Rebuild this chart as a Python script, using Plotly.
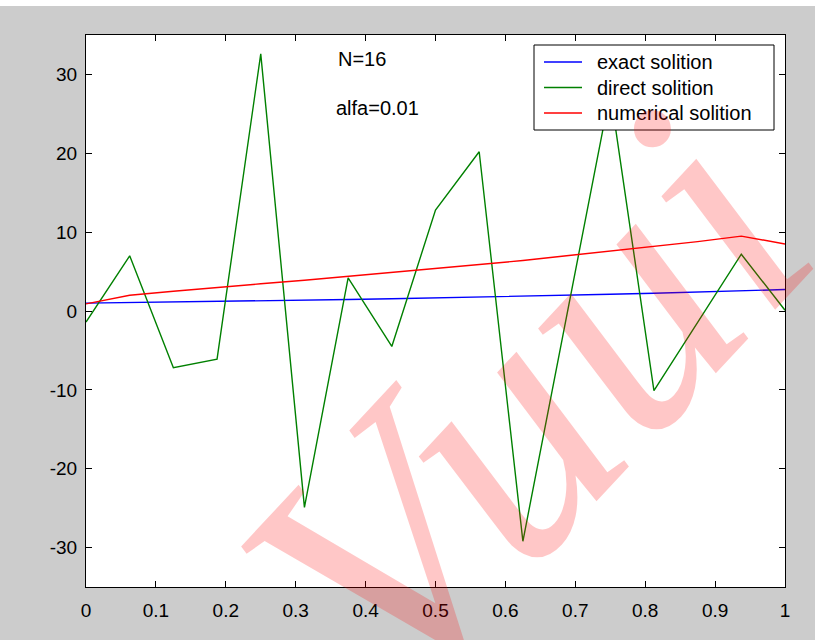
import plotly.graph_objects as go

# grid nodes (N = 16)
x_nodes = [0, 0.0625, 0.125, 0.1875, 0.25, 0.3125, 0.375, 0.4375, 0.5,
           0.5625, 0.625, 0.6875, 0.75, 0.8125, 0.875, 0.9375, 1.0]

exact_vals = [1.00, 1.06, 1.13, 1.21, 1.28, 1.37, 1.45, 1.55, 1.65,
              1.75, 1.87, 1.99, 2.12, 2.26, 2.40, 2.55, 2.72]

direct_vals = [-1.4, 7.0, -7.2, -6.1, 32.6, -24.9, 4.2, -4.5, 12.8,
               20.2, -29.2, -0.7, 27.8, -10.1, -1.4, 7.2, 0.1]

numerical_vals = [0.9, 2.0, 2.5, 3.0, 3.45, 3.9, 4.4, 4.9, 5.4,
                  5.9, 6.4, 7.0, 7.6, 8.2, 8.8, 9.5, 8.5]

series_names = ["exact solition", "direct solition", "numerical solition"]
series_colors = ["#0000ff", "#008000", "#ff0000"]

x_ticks = [0, 0.1, 0.2, 0.3, 0.4, 0.5, 0.6, 0.7, 0.8, 0.9, 1]
x_tick_text = ["0", "0.1", "0.2", "0.3", "0.4", "0.5", "0.6", "0.7", "0.8", "0.9", "1"]
y_ticks = [-30, -20, -10, 0, 10, 20, 30]
y_tick_text = ["-30", "-20", "-10", "0", "10", "20", "30"]

FONT = "Liberation Sans"

# plot-area geometry in pixels (used to place the boxed legend)
W, H = 815, 640
ML, MR, MT, MB = 86, 30, 35, 53
PW, PH = W - ML - MR, H - MT - MB


def px_to_paper(px, py):
    return (px - ML) / PW, (H - MB - py) / PH


fig = go.Figure()
for vals, name, col in zip([exact_vals, direct_vals, numerical_vals],
                           series_names, series_colors):
    fig.add_trace(go.Scatter(x=x_nodes, y=vals, mode="lines", name=name,
                             showlegend=False,
                             line=dict(color=col, width=1.4)))

axis_common = dict(
    showline=True, linecolor="black", linewidth=1, mirror="ticks",
    ticks="inside", ticklen=6, tickcolor="black", tickwidth=1,
    showgrid=False, zeroline=False,
    tickfont=dict(family=FONT, size=19, color="black"),
)

fig.update_xaxes(range=[0, 1], tickvals=x_ticks, ticktext=x_tick_text,
                 ticklabelstandoff=6, **axis_common)
fig.update_yaxes(range=[-35, 35], tickvals=y_ticks, ticktext=y_tick_text,
                 ticklabelstandoff=4, **axis_common)

fig.add_annotation(x=0.357, y=31.9, xref="x", yref="y", text="N=16",
                   showarrow=False, xanchor="left", yanchor="middle",
                   font=dict(family=FONT, size=20, color="black"))
fig.add_annotation(x=0.355, y=25.8, xref="x", yref="y", text="alfa=0.01",
                   showarrow=False, xanchor="left", yanchor="middle",
                   font=dict(family=FONT, size=20, color="black"))

# boxed legend
bx0, by0 = px_to_paper(534, 45)
bx1, by1 = px_to_paper(774, 130)
fig.add_shape(type="rect", xref="paper", yref="paper",
              x0=bx0, x1=bx1, y0=by1, y1=by0,
              fillcolor="white", line=dict(color="black", width=1))
for i, (name, col) in enumerate(zip(series_names, series_colors)):
    row_y = 62 + 25.5 * i
    lx0, ly = px_to_paper(544, row_y)
    lx1, _ = px_to_paper(582, row_y)
    fig.add_shape(type="line", xref="paper", yref="paper",
                  x0=lx0, x1=lx1, y0=ly, y1=ly,
                  line=dict(color=col, width=1.5))
    tx, _ = px_to_paper(595, row_y)
    fig.add_annotation(x=tx, y=ly, xref="paper", yref="paper", text=name,
                       showarrow=False, xanchor="left", yanchor="middle",
                       font=dict(family=FONT, size=20, color="black"))

# translucent watermark
wx, wy = px_to_paper(525, 405)
fig.add_annotation(x=wx, y=wy, xref="paper", yref="paper", text="<i>Vuui</i>",
                   showarrow=False, textangle=-47,
                   xanchor="center", yanchor="middle",
                   font=dict(family="Liberation Serif", size=350,
                             color="rgba(255,0,0,0.22)"))

# thin white strip along the top edge of the figure
fig.add_shape(type="rect", xref="paper", yref="paper",
              x0=-0.2, x1=1.1, y0=1.0525, y1=1.07,
              fillcolor="white", line=dict(width=0), layer="below")

fig.update_layout(
    width=W, height=H, autosize=False,
    margin=dict(l=ML, r=MR, t=MT, b=MB, pad=0),
    paper_bgcolor="#cccccc", plot_bgcolor="white",
    showlegend=False,
)

fig.write_html("out.html")
